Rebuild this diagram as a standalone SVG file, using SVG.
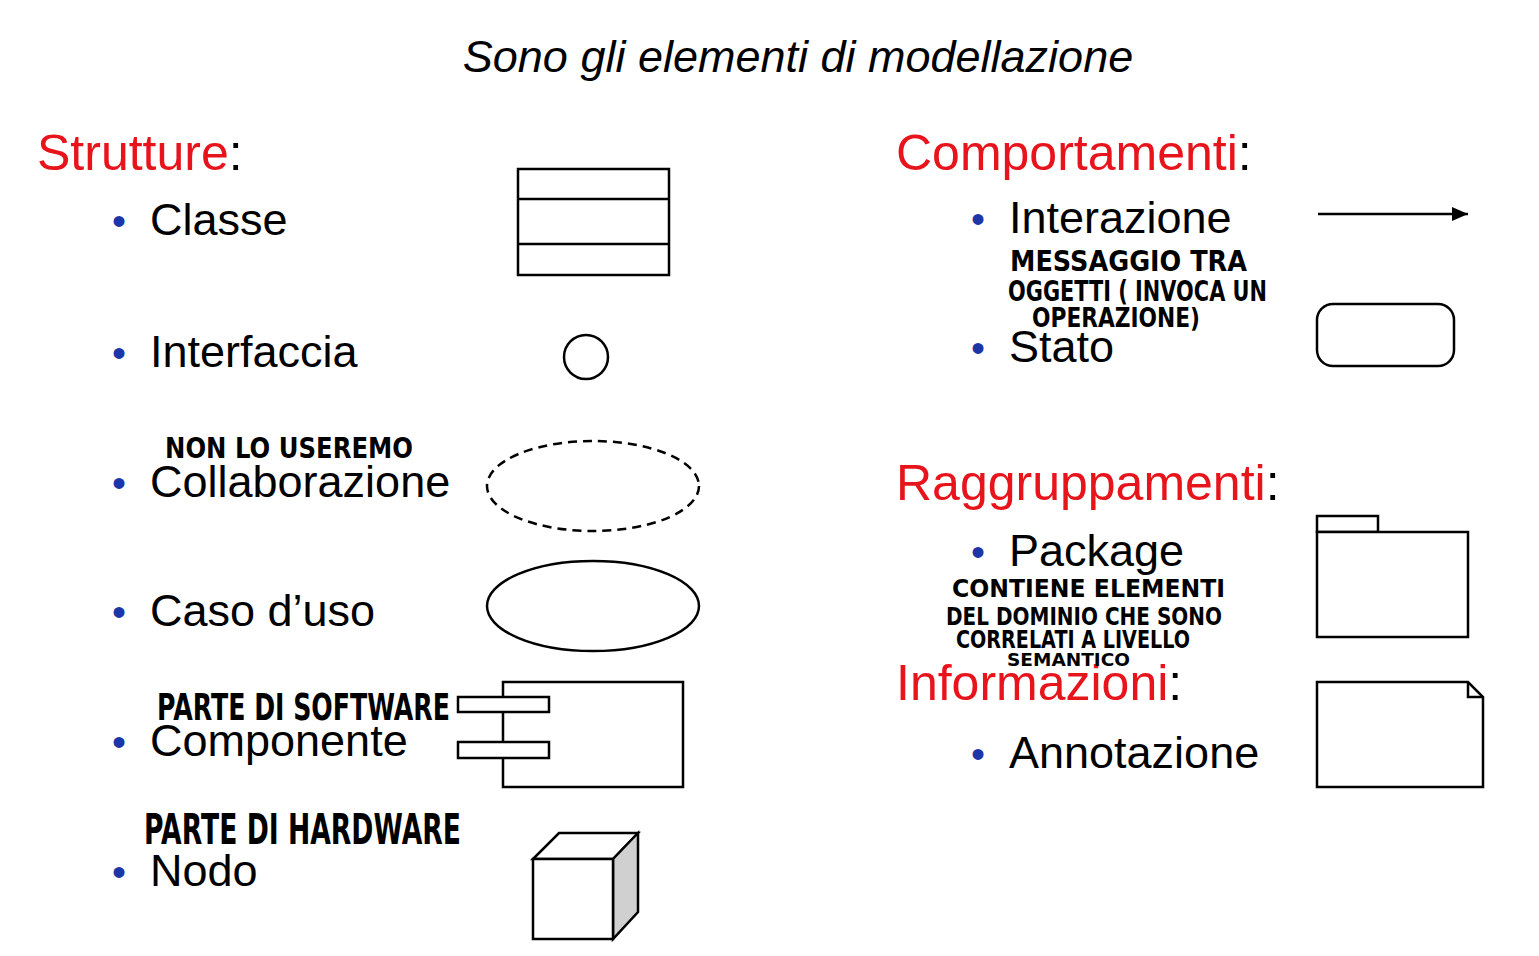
<svg xmlns="http://www.w3.org/2000/svg" width="1539" height="956" viewBox="0 0 1539 956">
<style>
text{font-family:"Liberation Sans",Arial,sans-serif;fill:#000}
.title{font-size:45px;font-style:italic}
.head{font-size:50px}
.red{fill:#e8141c}
.item{font-size:45px}
.bul{font-size:40px;fill:#1c35a8}
.hw{font-family:"DejaVu Sans","Liberation Sans",sans-serif;font-weight:bold;fill:#000}
.s{fill:#fff;stroke:#000;stroke-width:2.5}
</style>
<defs>
<marker id="ah" viewBox="0 0 16 14" refX="16" refY="7" markerWidth="16" markerHeight="14" markerUnits="userSpaceOnUse" orient="auto">
<path d="M0,0 L16,7 L0,14 Z" fill="#000"/>
</marker>
</defs>
<rect width="1539" height="956" fill="#fff"/>
<text class="title" x="798" y="72" text-anchor="middle">Sono gli elementi di modellazione</text>

<g id="left-labels">
<text class="head" x="37" y="170"><tspan class="red">Strutture</tspan>:</text>
<text class="bul" x="112" y="235">•</text><text class="item" x="150" y="235">Classe</text>
<text class="bul" x="112" y="367">•</text><text class="item" x="150" y="367">Interfaccia</text>
<text class="bul" x="112" y="497">•</text><text class="item" x="150" y="497">Collaborazione</text>
<text class="bul" x="112" y="626">•</text><text class="item" x="150" y="626">Caso d’uso</text>
<text class="bul" x="112" y="756">•</text><text class="item" x="150" y="756">Componente</text>
<text class="bul" x="112" y="886">•</text><text class="item" x="150" y="886">Nodo</text>
</g>

<g id="right-labels">
<text class="head" x="896" y="170"><tspan class="red">Comportamenti</tspan>:</text>
<text class="bul" x="971" y="233">•</text><text class="item" x="1009" y="233">Interazione</text>
<text class="bul" x="971" y="362">•</text><text class="item" x="1009" y="362">Stato</text>
<text class="head" x="896" y="500"><tspan class="red">Raggruppamenti</tspan>:</text>
<text class="bul" x="971" y="566">•</text><text class="item" x="1009" y="566">Package</text>
<text class="head" x="896" y="700"><tspan class="red">Informazioni</tspan>:</text>
<text class="bul" x="971" y="768">•</text><text class="item" x="1009" y="768">Annotazione</text>
</g>

<g id="notes">
<text class="hw" x="165" y="458" font-size="28" textLength="248" lengthAdjust="spacingAndGlyphs">NON LO USEREMO</text>
<text class="hw" x="157" y="720" font-size="37" textLength="293" lengthAdjust="spacingAndGlyphs">PARTE DI SOFTWARE</text>
<text class="hw" x="144" y="844" font-size="42" textLength="317" lengthAdjust="spacingAndGlyphs">PARTE DI HARDWARE</text>
<text class="hw" x="1010" y="271" font-size="28" textLength="237" lengthAdjust="spacingAndGlyphs">MESSAGGIO TRA</text>
<text class="hw" x="1008" y="301" font-size="28" textLength="259" lengthAdjust="spacingAndGlyphs">OGGETTI ( INVOCA UN</text>
<text class="hw" x="1032" y="327" font-size="27" textLength="168" lengthAdjust="spacingAndGlyphs">OPERAZIONE)</text>
<text class="hw" x="952" y="597" font-size="24" textLength="273" lengthAdjust="spacingAndGlyphs">CONTIENE ELEMENTI</text>
<text class="hw" x="946" y="625" font-size="25" textLength="276" lengthAdjust="spacingAndGlyphs">DEL DOMINIO CHE SONO</text>
<text class="hw" x="956" y="648" font-size="24" textLength="234" lengthAdjust="spacingAndGlyphs">CORRELATI A LIVELLO</text>
<text class="hw" x="1007" y="666" font-size="18" textLength="123" lengthAdjust="spacingAndGlyphs">SEMANTICO</text>
</g>

<g id="classe">
<rect class="s" x="518" y="169" width="151" height="106"/>
<line x1="518" y1="199" x2="669" y2="199" stroke="#000" stroke-width="2.5"/>
<line x1="518" y1="244" x2="669" y2="244" stroke="#000" stroke-width="2.5"/>
</g>
<g id="interfaccia"><circle class="s" cx="586" cy="357" r="22"/></g>
<g id="collaborazione"><ellipse class="s" cx="593" cy="486" rx="106" ry="45" stroke-dasharray="9,6"/></g>
<g id="casoduso"><ellipse class="s" cx="593" cy="606" rx="106" ry="45"/></g>
<g id="componente">
<rect class="s" x="503" y="682" width="180" height="105"/>
<rect class="s" x="458" y="697" width="91" height="15"/>
<rect class="s" x="458" y="742" width="91" height="16"/>
</g>
<g id="nodo">
<path class="s" d="M533,859 L559,833 L638,833 L613,859 Z"/>
<path d="M613,859 L638,833 L638,912 L613,939 Z" fill="#d0d0d0" stroke="#000" stroke-width="2.5"/>
<rect class="s" x="533" y="859" width="80" height="80"/>
</g>

<g id="connectors">
<line x1="1318" y1="214" x2="1468" y2="214" stroke="#000" stroke-width="2.5" marker-end="url(#ah)"/>
</g>
<g id="stato"><rect class="s" x="1317" y="304" width="137" height="62" rx="16"/></g>
<g id="package">
<rect class="s" x="1317" y="516" width="61" height="16"/>
<rect class="s" x="1317" y="532" width="151" height="105"/>
</g>
<g id="annotazione">
<path class="s" d="M1317,682 L1468,682 L1483,697 L1483,787 L1317,787 Z"/>
<path d="M1468,682 L1468,697 L1483,697" fill="none" stroke="#000" stroke-width="2.5"/>
</g>
</svg>
